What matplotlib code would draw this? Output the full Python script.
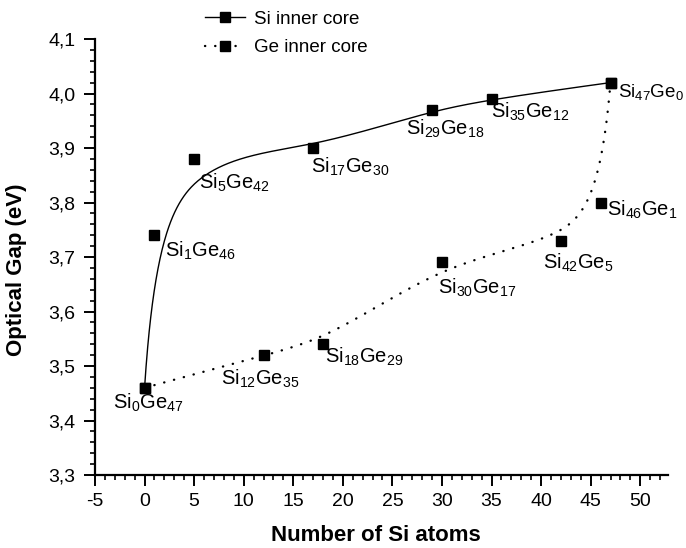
import numpy as np
import matplotlib
matplotlib.use("Agg")
import matplotlib.pyplot as plt
from matplotlib.lines import Line2D
from matplotlib.ticker import MultipleLocator, FuncFormatter

plt.rcParams['font.family'] = ['Liberation Sans', 'DejaVu Sans']
plt.rcParams['mathtext.fontset'] = 'custom'
plt.rcParams['mathtext.rm'] = 'Liberation Sans'
plt.rcParams['mathtext.it'] = 'Liberation Sans'
plt.rcParams['axes.unicode_minus'] = False

# ---- data ----
si_x = [0, 1, 5, 17, 29, 35, 47]
si_y = [3.46, 3.74, 3.88, 3.90, 3.97, 3.99, 4.02]
si_labels = [r'Si$_{0}$Ge$_{47}$', r'Si$_{1}$Ge$_{46}$', r'Si$_{5}$Ge$_{42}$',
             r'Si$_{17}$Ge$_{30}$', r'Si$_{29}$Ge$_{18}$', r'Si$_{35}$Ge$_{12}$',
             r'Si$_{47}$Ge$_{0}$']

ge_x = [0, 12, 18, 30, 42, 46, 47]
ge_y = [3.46, 3.52, 3.54, 3.69, 3.73, 3.80, 4.02]
ge_labels = [None, r'Si$_{12}$Ge$_{35}$', r'Si$_{18}$Ge$_{29}$', r'Si$_{30}$Ge$_{17}$',
             r'Si$_{42}$Ge$_{5}$', r'Si$_{46}$Ge$_{1}$', None]

series_names = ['Si inner core', 'Ge inner core']
x_ticks = [-5, 0, 5, 10, 15, 20, 25, 30, 35, 40, 45, 50]
y_ticks = [3.3, 3.4, 3.5, 3.6, 3.7, 3.8, 3.9, 4.0, 4.1]


def bspline(px, py, n=500, k=3):
    """Clamped uniform B-spline using the data points as control points."""
    P = np.column_stack([px, py]).astype(float)
    m = len(P)
    inner = np.arange(1, m - k)
    knots = np.concatenate([np.zeros(k + 1), inner, np.full(k + 1, m - k)]).astype(float)
    t = np.linspace(0, m - k, n)
    t[-1] -= 1e-9
    N = np.zeros((n, len(knots) - 1))
    for i in range(len(knots) - 1):
        N[:, i] = (t >= knots[i]) & (t < knots[i + 1])
    for d in range(1, k + 1):
        Nn = np.zeros((n, len(knots) - 1 - d))
        for i in range(len(knots) - 1 - d):
            a = knots[i + d] - knots[i]
            b = knots[i + d + 1] - knots[i + 1]
            term = np.zeros(n)
            if a > 0:
                term += (t - knots[i]) / a * N[:, i]
            if b > 0:
                term += (knots[i + d + 1] - t) / b * N[:, i + 1]
            Nn[:, i] = term
        N = Nn
    C = N @ P
    return C[:, 0], C[:, 1]


fig = plt.figure(figsize=(6.86, 5.48), dpi=100)
ax = fig.add_axes([95 / 686, 1 - 475 / 548, (668 - 95) / 686, (475 - 39) / 548])

dotted = (0, (0.1, 4.2))
sx, sy = bspline(si_x, si_y)
gx, gy = bspline(ge_x, ge_y)
ax.plot(sx, sy, color='black', lw=1.0)
ax.plot(gx, gy, color='black', lw=1.7, linestyle=dotted, dash_capstyle='round')
ax.plot(si_x, si_y, linestyle='none', marker='s', ms=7.5, color='black')
ax.plot(ge_x, ge_y, linestyle='none', marker='s', ms=7.5, color='black')

# label offsets in pixels (dx, dy) relative to marker, text top-left anchored
si_off = [(-32, -4), (11, -4), (5, -13), (-2, -8), (-26, -8), (-1, -2), (7, 1)]
ge_off = [None, (-43, -13), (2, -1), (-4, -14), (-18, -11), (6, 4), None]
si_fs = [14.5, 14.5, 14.5, 14.5, 14.5, 14.5, 13.5]
ge_fs = [14.5] * 7
for x, y, lab, off, fs in zip(si_x, si_y, si_labels, si_off, si_fs):
    ax.annotate(lab, (x, y), xytext=off, textcoords='offset pixels',
                ha='left', va='top', fontsize=fs)
for x, y, lab, off, fs in zip(ge_x, ge_y, ge_labels, ge_off, ge_fs):
    if lab is None:
        continue
    ax.annotate(lab, (x, y), xytext=off, textcoords='offset pixels',
                ha='left', va='top', fontsize=fs)

ax.set_xlim(-5, 52.8)
ax.set_ylim(3.3, 4.1)
ax.set_xticks(x_ticks)
ax.set_yticks(y_ticks)
ax.xaxis.set_minor_locator(MultipleLocator(1))
ax.yaxis.set_minor_locator(MultipleLocator(0.02))
ax.yaxis.set_major_formatter(FuncFormatter(lambda v, p: f"{v:.1f}".replace('.', ',')))
ax.xaxis.set_major_formatter(FuncFormatter(lambda v, p: f"{v:.0f}"))

for s in ['top', 'right']:
    ax.spines[s].set_visible(False)
for s in ['left', 'bottom']:
    ax.spines[s].set_linewidth(1.6)
ax.tick_params(which='major', direction='out', length=8, width=1.4, labelsize=14)
ax.tick_params(axis='x', which='major', pad=5)
ax.tick_params(axis='y', which='major', pad=6)
ax.tick_params(which='minor', direction='out', length=3.8, width=1.2)

ax.set_xlabel('Number of Si atoms', fontsize=16, fontweight='bold')
ax.set_ylabel('Optical Gap (eV)', fontsize=16, fontweight='bold')
ax.xaxis.set_label_coords(0.49, -0.115)
ax.yaxis.set_label_coords(-0.118, 0.47)

handles = [Line2D([], [], color='black', lw=1.0, marker='s', ms=7.5),
           Line2D([], [], color='black', lw=1.7, linestyle=dotted, marker='s', ms=7.5,
                  dash_capstyle='round')]
fig.legend(handles, series_names, loc='upper left', bbox_to_anchor=(201 / 686, 1 - 7 / 548),
           frameon=False, fontsize=13.5, handlelength=2.15, handletextpad=0.45,
           labelspacing=0.6, borderpad=0.2, borderaxespad=0)

fig.savefig('out.png', dpi=100)
